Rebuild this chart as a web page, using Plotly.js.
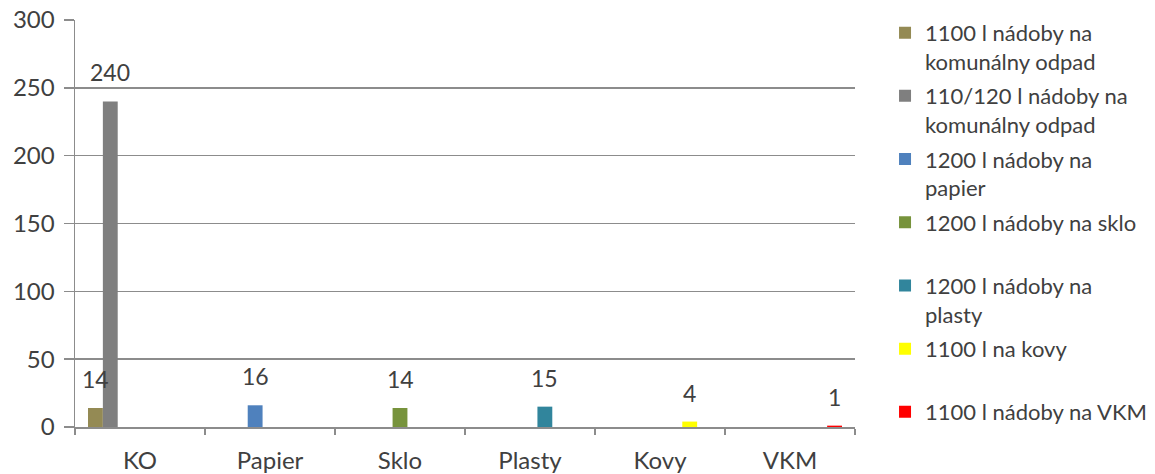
<!DOCTYPE html>
<html>
<head>
<meta charset="utf-8">
<script src="https://cdn.plot.ly/plotly-3.0.1.min.js"></script>
<style>html,body{margin:0;padding:0;background:#fff;}#chart{width:1155px;height:474px;}</style>
</head>
<body>
<div id="chart"></div>
<script>
const categories = ["KO", "Papier", "Sklo", "Plasty", "Kovy", "VKM"];
const seriesNames = [
  "1100 l nádoby na<br>komunálny odpad",
  "110/120 l nádoby na<br>komunálny odpad",
  "1200 l nádoby na<br>papier",
  "1200 l nádoby na sklo<br> ",
  "1200 l nádoby na<br>plasty",
  "1100 l na kovy<br> ",
  "1100 l nádoby na VKM<br> "
];
const s1100KO   = [14, 0, 0, 0, 0, 0];
const s110KO    = [240, 0, 0, 0, 0, 0];
const s1200Pap  = [0, 16, 0, 0, 0, 0];
const s1200Sklo = [0, 0, 14, 0, 0, 0];
const s1200Pl   = [0, 0, 0, 15, 0, 0];
const s1100Kov  = [0, 0, 0, 0, 4, 0];
const s1100VKM  = [0, 0, 0, 0, 0, 1];
const yTicks = [0, 50, 100, 150, 200, 250, 300];

const seriesValues = [s1100KO, s110KO, s1200Pap, s1200Sklo, s1200Pl, s1100Kov, s1100VKM];
const colors = ["#948a54", "#7f7f7f", "#4f81bd", "#77933c", "#31859c", "#ffff00", "#ff0000"];

const W = 1155, H = 474;
const margin = {l: 75, r: 300, t: 20, b: 47, autoexpand: false};
const bargap = 0.2;
const plotW = W - margin.l - margin.r;
const slotPx = (plotW / categories.length) * (1 - bargap) / seriesValues.length;
const mid = (seriesValues.length - 1) / 2;

const traces = seriesValues.map((vals, i) => ({
  type: "bar",
  name: seriesNames[i],
  legendgroup: "g" + i,
  x: categories,
  y: vals,
  marker: {color: colors[i]},
  hoverinfo: "x+y"
}));

const annotations = [];
seriesValues.forEach((vals, i) => {
  vals.forEach((v, j) => {
    if (v > 0) {
      annotations.push({
        x: categories[j], y: v, xref: "x", yref: "y",
        text: String(v), showarrow: false,
        xshift: (i - mid) * slotPx, yshift: 13,
        yanchor: "bottom", xanchor: "center",
        font: {family: "Lato, sans-serif", size: 23, color: "#404040"}
      });
    }
  });
});

const layout = {
  width: W, height: H,
  margin: margin,
  paper_bgcolor: "#ffffff",
  plot_bgcolor: "#ffffff",
  barmode: "group",
  bargap: bargap,
  bargroupgap: 0,
  font: {family: "Lato, sans-serif", size: 23, color: "#404040"},
  xaxis: {
    type: "category",
    tickson: "boundaries",
    ticks: "outside", ticklen: 6, tickwidth: 1.5, tickcolor: "#8c8c8c",
    showline: true, linecolor: "#8c8c8c", linewidth: 1.5,
    showgrid: false,
    tickfont: {family: "Lato, sans-serif", size: 24, color: "#404040"},
    ticklabelstandoff: 12
  },
  yaxis: {
    range: [0, 300],
    tickvals: yTicks,
    ticktext: yTicks.map(String),
    ticks: "outside", ticklen: 10, tickwidth: 1.5, tickcolor: "#8c8c8c",
    showline: true, linecolor: "#8c8c8c", linewidth: 1.5,
    showgrid: true, gridcolor: "#8c8c8c", gridwidth: 1.5,
    zeroline: false,
    tickfont: {family: "Lato, sans-serif", size: 24, color: "#404040"},
    ticklabelstandoff: 4
  },
  legend: {
    x: 1.0385, xanchor: "left", y: 1.02, yanchor: "top",
    font: {family: "Lato, sans-serif", size: 22, color: "#404040"},
    valign: "top",
    bgcolor: "rgba(0,0,0,0)",
    itemwidth: 30,
    tracegroupgap: 3,
    maxheight: 1
  },
  annotations: annotations,
  showlegend: true
};

Plotly.newPlot("chart", traces, layout, {displayModeBar: false, staticPlot: true});
</script>
</body>
</html>
